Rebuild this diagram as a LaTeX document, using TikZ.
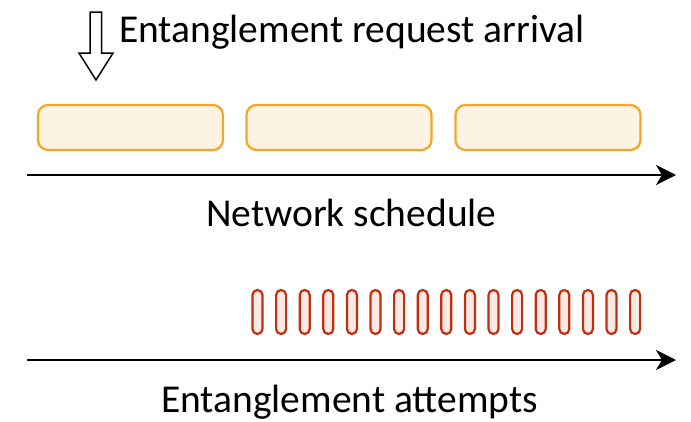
\documentclass[tikz,border=0pt]{standalone}
\usepackage{fontspec}
\setmainfont{Carlito}
\usepackage{xcolor}
\usetikzlibrary{arrows.meta,positioning}

\definecolor{slotfill}{HTML}{FDF3E2}
\definecolor{slotline}{HTML}{F5A623}
\definecolor{tryfill}{HTML}{FCE8E4}
\definecolor{tryline}{HTML}{C1300C}

\begin{document}
\begin{tikzpicture}[
    x=1pt, y=-1pt,
    slot/.style={rectangle, rounded corners=10pt, draw=slotline, fill=slotfill, line width=2.2pt, minimum width=185pt, minimum height=45pt, inner sep=0pt},
    attempt/.style={rectangle, rounded corners=5pt, draw=tryline, fill=tryfill, line width=2.2pt, minimum width=10pt, minimum height=44pt, inner sep=0pt},
    axis/.style={-{Stealth[length=20pt,width=20pt,inset=6pt]}, line width=2pt},
    label/.style={font=\fontsize{39.5}{47}\selectfont, inner sep=0pt, anchor=base west}
]
    \useasboundingbox (0,0) rectangle (691,421);

    % Request arrival
    \draw[line width=1.5pt, line join=miter] (90,12) -- (101.5,12) -- (101.5,53) -- (113,53) -- (96,80) -- (79,53) -- (90,53) -- cycle;
    \node[label] (req) at (119,42) {Entanglement request arrival};

    % Network schedule
    \node[slot] (s1) at (130.5,127.5) {};
    \node[slot] (s2) at (339,127.5) {};
    \node[slot] (s3) at (548,127.5) {};
    \coordinate (n0) at (27,175);
    \coordinate (n1) at (676,175);
    \draw[axis] (n0) -- (n1);
    \node[label] (net) at (206,226.7) {Network schedule};

    % Entanglement attempts
    \foreach \i in {0,...,16}
        \node[attempt] (a\i) at (257.5+\i*23.6,312) {};
    \coordinate (e0) at (27,360);
    \coordinate (e1) at (676,360);
    \draw[axis] (e0) -- (e1);
    \node[label] (ent) at (161,412) {Entanglement attempts};

\end{tikzpicture}
\end{document}
